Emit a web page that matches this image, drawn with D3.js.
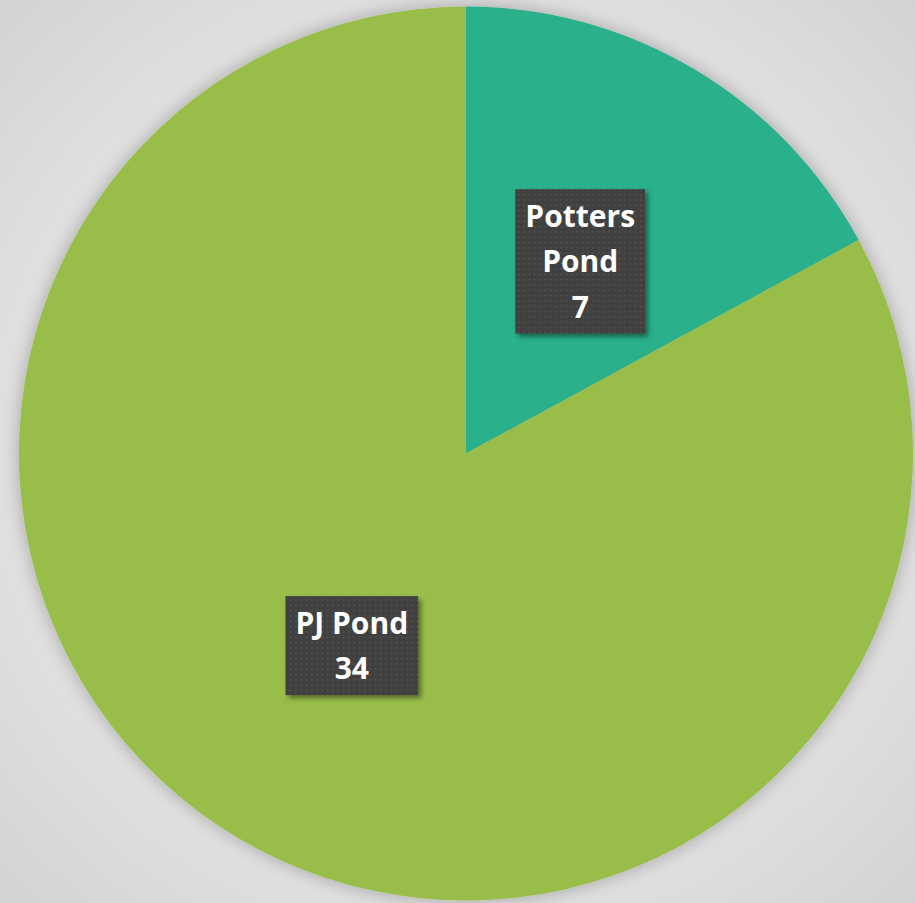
<!DOCTYPE html>
<html>
<head>
<meta charset="utf-8">
<script src="https://cdn.jsdelivr.net/npm/d3@7"></script>
<style>
  html, body { margin: 0; padding: 0; overflow: hidden; }
  svg { display: block; }
</style>
</head>
<body>
<script>
// Counts per pond
const categories = ["Potters Pond", "PJ Pond"];
const values = [7, 34];
const colors = ["#2BB08B", "#98BE4A"];

const W = 915, H = 903;
const cx = 466, cy = 453.5, R = 447;

const svg = d3.select("body").append("svg")
  .attr("width", W).attr("height", H);

const defs = svg.append("defs");

// Soft grey backdrop, lighter toward the middle
const bg = defs.append("radialGradient").attr("id", "bg")
  .attr("cx", "50%").attr("cy", "50%").attr("r", "72%");
bg.append("stop").attr("offset", "0%").attr("stop-color", "#ededed");
bg.append("stop").attr("offset", "60%").attr("stop-color", "#e4e4e4");
bg.append("stop").attr("offset", "100%").attr("stop-color", "#d2d2d2");

// Halo shadow around the pie
const pieShadow = defs.append("filter").attr("id", "pieShadow")
  .attr("x", "-10%").attr("y", "-10%").attr("width", "120%").attr("height", "120%");
pieShadow.append("feDropShadow")
  .attr("dx", 0).attr("dy", 0).attr("stdDeviation", 9)
  .attr("flood-color", "#000").attr("flood-opacity", 0.28);

// Drop shadow for the label boxes
const boxShadow = defs.append("filter").attr("id", "boxShadow")
  .attr("x", "-20%").attr("y", "-20%").attr("width", "150%").attr("height", "150%");
boxShadow.append("feDropShadow")
  .attr("dx", 3).attr("dy", 3).attr("stdDeviation", 2.5)
  .attr("flood-color", "#000").attr("flood-opacity", 0.45);

// Dotted texture for the label boxes
const dots = defs.append("pattern").attr("id", "dots")
  .attr("patternUnits", "userSpaceOnUse").attr("width", 5.3).attr("height", 5.3);
dots.append("rect").attr("width", 5.3).attr("height", 5.3).attr("fill", "#404040");
dots.append("rect").attr("x", 1.5).attr("y", 1.5).attr("width", 1.6).attr("height", 1.6)
  .attr("fill", "#555555");

svg.append("rect").attr("width", W).attr("height", H).attr("fill", "url(#bg)");

const pie = d3.pie().sort(null).value(d => d.value);
const data = pie(categories.map((c, i) => ({ name: c, value: values[i], color: colors[i] })));

const arc = d3.arc().innerRadius(0).outerRadius(R);
const labelArc = d3.arc().innerRadius(R * 0.5).outerRadius(R * 0.5);

const g = svg.append("g").attr("transform", `translate(${cx},${cy})`);

g.append("g").attr("filter", "url(#pieShadow)")
  .selectAll("path").data(data).join("path")
  .attr("d", arc)
  .attr("fill", d => d.data.color);

// Data labels: name (wrapped) and value inside a dark box
const fontSize = 30, lineH = 45.5;
const labelLines = d => d.data.name === "Potters Pond"
  ? ["Potters", "Pond", String(d.data.value)]
  : ["PJ Pond", String(d.data.value)];

const labels = g.selectAll("g.label").data(data).join("g")
  .attr("class", "label")
  .attr("transform", d => {
    const [x, y] = labelArc.centroid(d);
    return `translate(${x},${y})`;
  });

labels.each(function(d) {
  const lines = labelLines(d);
  const sel = d3.select(this);
  const boxRect = sel.append("rect").attr("filter", "url(#boxShadow)")
    .attr("fill", "url(#dots)");
  const text = sel.append("text")
    .attr("text-anchor", "middle")
    .attr("font-family", "'Open Sans', 'DejaVu Sans', sans-serif")
    .attr("font-weight", "bold")
    .attr("font-size", fontSize)
    .attr("fill", "#ffffff");
  const n = lines.length;
  lines.forEach((t, i) => {
    text.append("tspan")
      .attr("x", 0)
      .attr("y", (i - (n - 1) / 2) * lineH + fontSize * 0.36)
      .text(t);
  });
  const bb = text.node().getBBox();
  const padX = 10;
  const h = n * lineH + 8;
  boxRect.attr("x", bb.x - padX).attr("width", bb.width + padX * 2)
    .attr("y", -h / 2).attr("height", h);
});
</script>
</body>
</html>
